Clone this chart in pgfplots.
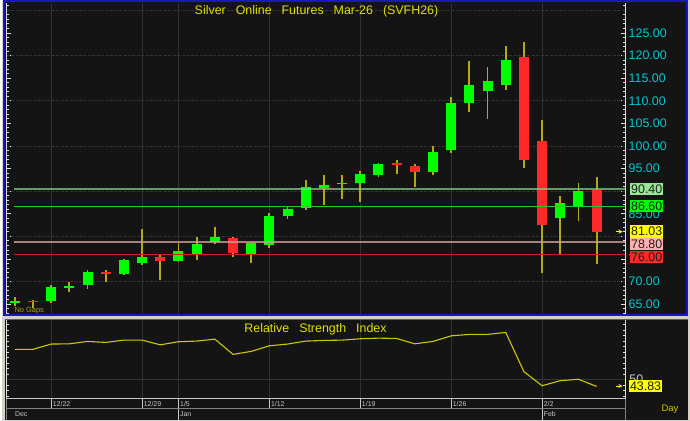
\documentclass[border=0pt]{standalone}
\usepackage{pgfplots}
\pgfplotsset{compat=1.18}
\usepackage{pgfplotstable}
\usepackage{fontspec}
\setmainfont{Liberation Sans}

\definecolor{bgdark}{RGB}{20,20,20}
\definecolor{frameblue}{RGB}{24,24,190}
\definecolor{wingrey}{RGB}{212,208,200}
\definecolor{cgreen}{RGB}{0,255,0}
\definecolor{cred}{RGB}{255,40,40}
\definecolor{wick}{RGB}{180,170,15}
\definecolor{gridc}{RGB}{50,50,50}
\definecolor{tickw}{RGB}{225,225,225}
\definecolor{ticklab}{RGB}{0,200,210}
\definecolor{titley}{RGB}{225,225,0}
\definecolor{rsiy}{RGB}{205,200,0}
\definecolor{lvlA}{RGB}{130,200,130}
\definecolor{lvlB}{RGB}{40,200,40}
\definecolor{lvlC}{RGB}{205,155,155}
\definecolor{lvlD}{RGB}{200,30,30}
\definecolor{boxA}{RGB}{150,230,150}
\definecolor{boxB}{RGB}{0,255,0}
\definecolor{boxC}{RGB}{255,255,0}
\definecolor{boxD}{RGB}{255,176,176}
\definecolor{boxE}{RGB}{255,40,40}
\definecolor{boxtxt}{RGB}{30,30,30}
\definecolor{datec}{RGB}{200,200,200}
\definecolor{rowline}{RGB}{130,130,130}
\definecolor{nogap}{RGB}{160,160,20}

\pgfplotstableread{
i O H L C
0 65.3 66.5 64.6 65.7
2 65.6 69.2 65.2 68.8
3 68.6 69.8 67.7 69.1
4 69.2 72.5 68.3 72.2
6 71.6 75.1 71.4 74.8
7 74.0 81.7 73.7 75.4
9 74.6 78.5 74.4 76.7
10 76.0 79.9 74.8 78.2
11 78.8 82.1 78.4 79.8
13 76.0 78.8 74.0 78.6
14 78.1 85.1 77.5 84.6
15 84.6 86.5 83.9 86.1
16 86.2 92.4 85.8 90.9
17 90.7 93.5 86.9 91.3
18 91.5 93.5 88.3 91.9
19 91.8 94.5 87.6 93.9
20 93.5 96.3 93.2 95.9
23 94.3 99.9 93.5 98.7
24 99.0 110.8 98.5 109.6
25 109.6 118.8 107.6 113.4
26 112.2 117.4 106.0 114.4
27 113.4 122.1 112.4 119.0
30 84.1 89.0 75.9 87.4
31 86.6 91.7 83.5 90.0
}\greendata

\pgfplotstableread{
i O H L C
1 65.8 65.95 64.05 65.45
5 72.1 72.5 70.0 71.7
8 75.4 76.2 70.4 74.5
12 79.6 79.8 75.4 76.3
21 96.2 96.8 93.7 95.8
22 95.5 95.9 90.9 94.3
28 119.6 122.9 95.2 97.0
29 101.2 105.8 71.8 82.5
32 90.3 93.1 73.8 81.03
}\reddata

\pgfplotstableread{
i rsi
0 77.7
1 77.7
2 82.5
3 82.7
4 84.9
5 84.0
6 86.1
7 86.1
8 81.8
9 84.6
10 85.2
11 87.0
12 73.1
13 75.8
14 80.9
15 82.5
16 85.2
17 85.8
18 86.1
19 87.3
20 87.9
21 87.6
22 82.7
23 84.9
24 90.0
25 91.3
26 91.3
27 93.1
28 57.3
29 44.5
30 49.1
31 50.4
32 43.83
}\rsidata

\begin{document}
\begin{tikzpicture}[x=1bp,y=1bp]
% window background
\fill[wingrey] (0,0) rectangle (690,422);
% upper panel
\fill[bgdark] (2,106) rectangle (688,421);
% lower panel
\fill[bgdark] (3,1) rectangle (688,102);
\draw[rowline!130, line width=1bp] (3,102) -- (688,102);

% ===== price chart =====
\begin{axis}[
  at={(5bp,107bp)}, anchor=south west, scale only axis,
  width=620bp, height=312bp,
  xmin=-0.439, xmax=33.57, ymin=62.79, ymax=131.62,
  separate axis lines,
  x axis line style={draw=none},
  y axis line style={draw=tickw, line width=1bp},
  xtick=\empty,
  ytick={65,70,75,85,95,100,105,110,115,120,125},
  extra y ticks={80,90}, extra y tick labels={},
  minor ytick={63,64,...,131},
  ytick pos=both, yticklabel pos=right,
  tick align=inside,
  major tick length=4bp, minor tick length=2bp,
  tick style={draw=tickw, line width=0.8bp},
  yticklabel style={text=ticklab, font=\fontsize{12.5}{14}\selectfont, anchor=west},
  yticklabel={\pgfmathprintnumber[fixed,fixed zerofill,precision=2,assume math mode=true]{\tick}},
  clip mode=individual,
]
\pgfplotsinvokeforeach{70,80,90,100,110,120,130}{
  \draw[gridc, line width=0.8bp, dash pattern=on 3bp off 1.5bp] (axis cs:-0.439,#1) -- (axis cs:33.57,#1);
}
\pgfplotsinvokeforeach{2,7,9,14,19,24,29}{
  \draw[gridc, line width=0.9bp] (axis cs:#1,62.79) -- (axis cs:#1,131.62);
}
% wicks
\addplot[draw=none, mark=none, error bars/.cd, y dir=plus, y explicit, error mark=none,
  error bar style={draw=wick, line width=1.8bp}]
  table[x=i, y=L, y error expr=\thisrow{H}-\thisrow{L}] {\greendata};
\addplot[draw=none, mark=none, error bars/.cd, y dir=plus, y explicit, error mark=none,
  error bar style={draw=wick, line width=1.8bp}]
  table[x=i, y=L, y error expr=\thisrow{H}-\thisrow{L}] {\reddata};
% bodies
\addplot[draw=none, mark=none, error bars/.cd, y dir=plus, y explicit, error mark=none,
  error bar style={draw=cgreen, line width=10bp}]
  table[x=i, y=O, y error expr=\thisrow{C}-\thisrow{O}] {\greendata};
\addplot[draw=none, mark=none, error bars/.cd, y dir=plus, y explicit, error mark=none,
  error bar style={draw=cred, line width=10bp}]
  table[x=i, y=C, y error expr=\thisrow{O}-\thisrow{C}] {\reddata};
% level lines
\addplot[lvlA, line width=1.8bp, opacity=0.75] coordinates {(-0.02,90.4) (33.57,90.4)};
\addplot[lvlB, line width=1bp] coordinates {(-0.02,86.6) (33.57,86.6)};
\addplot[lvlC, line width=1.8bp, opacity=0.8] coordinates {(-0.02,78.8) (33.57,78.8)};
\addplot[lvlD, line width=1bp] coordinates {(-0.02,76) (33.57,76)};
\end{axis}

% blue frame of the active panel
\draw[frameblue, line width=2bp] (2,106.5) rectangle (687,421);

% title
\node[text=titley, font=\fontsize{12.5}{14}\selectfont, inner sep=0] at (315.5,411)
  {Silver\hskip10bp Online\hskip10bp Futures\hskip10bp Mar-26\hskip10bp (SVFH26)};
\node[text=nogap, font=\fontsize{7.5}{8}\selectfont, anchor=west, inner sep=0] at (12.5,110.5) {No Gaps};

% value boxes
\tikzset{vbox/.style={anchor=west, inner sep=0, minimum width=33.5bp, minimum height=12.6bp,
  text=boxtxt, font=\fontsize{12.5}{14}\selectfont}}
\node[vbox, fill=boxA] at (629.7,232.3) {90.40};
\node[vbox, fill=boxB] at (629.7,215.5) {86.60};
\node[vbox, fill=boxC] at (629.7,189.7) {81.03};
\node[vbox, fill=boxD] at (629.7,177.3) {78.80};
\node[vbox, fill=boxE] at (629.7,164.2) {76.00};
\draw[boxC, line width=0.9bp, ->, >=stealth] (615.5,189.7) -- (622.5,189.7);

% ===== RSI panel =====
\begin{axis}[
  at={(5bp,22bp)}, anchor=south west, scale only axis,
  width=620bp, height=79bp,
  xmin=-0.439, xmax=33.57, ymin=32.45, ymax=104.3,
  separate axis lines,
  x axis line style={draw=none},
  y axis line style={draw=tickw, line width=1bp},
  xtick=\empty,
  ytick={50}, yticklabels={},
  minor ytick={35,40,...,100},
  ytick pos=both,
  tick align=inside,
  major tick length=4bp, minor tick length=2.5bp,
  tick style={draw=tickw, line width=0.8bp},
  clip mode=individual,
]
\draw[gridc, line width=0.9bp] (axis cs:-0.439,50) -- (axis cs:33.57,50);
\pgfplotsinvokeforeach{2,7,9,14,19,24,29}{
  \draw[gridc, line width=0.9bp] (axis cs:#1,32.45) -- (axis cs:#1,104.3);
  \draw[datec, line width=0.9bp] (axis cs:#1,32.45) -- ++(0bp,-9.5bp);
}
\draw[datec, line width=0.9bp] (axis cs:9,32.45) -- ++(0bp,-21bp);
\draw[datec, line width=0.9bp] (axis cs:29,32.45) -- ++(0bp,-21bp);
\addplot[rsiy, line width=1.1bp] table[x=i, y=rsi] {\rsidata};

\tikzset{dlab/.style={anchor=west, inner sep=0, text=datec, font=\fontsize{7}{8}\selectfont}}
\node[dlab, xshift=1.5bp, yshift=-5.5bp] at (axis cs:2,32.45) {12/22};
\node[dlab, xshift=1.5bp, yshift=-5.5bp] at (axis cs:7,32.45) {12/29};
\node[dlab, xshift=1.5bp, yshift=-5.5bp] at (axis cs:9,32.45) {1/5};
\node[dlab, xshift=1.5bp, yshift=-5.5bp] at (axis cs:14,32.45) {1/12};
\node[dlab, xshift=1.5bp, yshift=-5.5bp] at (axis cs:19,32.45) {1/19};
\node[dlab, xshift=1.5bp, yshift=-5.5bp] at (axis cs:24,32.45) {1/26};
\node[dlab, xshift=1.5bp, yshift=-5.5bp] at (axis cs:29,32.45) {2/2};
\node[dlab, xshift=0bp, yshift=-15.5bp] at (axis cs:0,32.45) {Dec};
\node[dlab, xshift=1.5bp, yshift=-15.5bp] at (axis cs:9,32.45) {Jan};
\node[dlab, xshift=1.5bp, yshift=-15.5bp] at (axis cs:29,32.45) {Feb};
\node[text=datec, font=\fontsize{12.5}{14}\selectfont, anchor=west, inner sep=0, xshift=4bp] at (axis cs:33.57,50) {50};
\end{axis}

% date rows
\draw[datec, line width=1bp] (5,22) -- (625,22);
\draw[rowline, line width=1bp] (5,12.5) -- (625,12.5);
\draw[rowline, line width=1bp] (5,22) -- (5,1);
\draw[rowline, line width=1bp] (625,22) -- (625,1);

\node[text=titley, font=\fontsize{12.5}{14}\selectfont, inner sep=0] at (314.5,92)
  {Relative\hskip10bp Strength\hskip10bp Index};
\node[vbox, fill=boxC] at (628.5,35) {43.83};
\draw[boxC, line width=0.9bp, ->, >=stealth] (615.5,35) -- (622.5,35);
\node[text=titley!90!black, font=\fontsize{9.5}{11}\selectfont, inner sep=0] at (670,11.5) {Day};
\end{tikzpicture}
\end{document}
